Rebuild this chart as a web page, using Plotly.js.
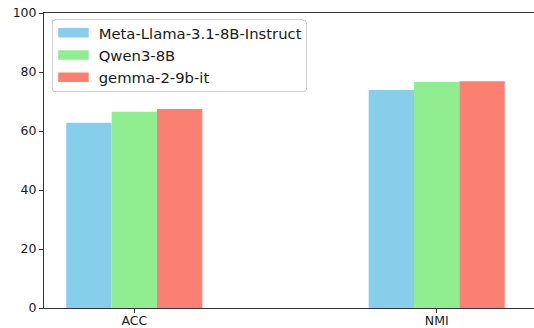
<!DOCTYPE html>
<html>
<head>
<meta charset="utf-8">
<script src="https://cdn.plot.ly/plotly-3.0.1.min.js"></script>
<style>html,body{margin:0;padding:0;background:#fff}#chart{width:534px;height:328px}</style>
</head>
<body>
<div id="chart"></div>
<script>
const categories = ["ACC", "NMI"];
const seriesNames = ["Meta-Llama-3.1-8B-Instruct", "Qwen3-8B", "gemma-2-9b-it"];
const llamaValues = [62.8, 73.9];
const qwenValues = [66.5, 76.6];
const gemmaValues = [67.5, 76.9];
const seriesColors = ["#87CEEB", "#90EE90", "#FA8072"];
const yTicks = [0, 20, 40, 60, 80, 100];

const allValues = [llamaValues, qwenValues, gemmaValues];
const traces = allValues.map((vals, i) => ({
  type: "bar",
  name: seriesNames[i],
  x: [0, 1],
  y: vals,
  marker: {color: seriesColors[i], line: {width: 0}},
  hoverinfo: "skip"
}));
// invisible carrier trace for the category-label axis
traces.push({
  type: "scatter", mode: "markers", x: [0, 1], y: [0, 0],
  xaxis: "x2", yaxis: "y", showlegend: false,
  marker: {opacity: 0}, hoverinfo: "skip"
});

const axisColor = "#333333";
const textColor = "#1a1a1a";
const xRange = [-0.2986, -0.2986 + 490 / 302.4];
const layout = {
  width: 534,
  height: 328,
  margin: {l: 44, r: 0, t: 13, b: 20, pad: 0},
  paper_bgcolor: "#fff",
  plot_bgcolor: "#fff",
  font: {family: "DejaVu Sans, sans-serif", size: 12.5, color: textColor},
  barmode: "group",
  bargap: 0.55,
  bargroupgap: 0,
  showlegend: true,
  legend: {
    x: 0.0157, y: 0.978, xanchor: "left", yanchor: "top",
    bgcolor: "rgba(255,255,255,0.8)",
    bordercolor: "#d0d0d0", borderwidth: 1,
    font: {family: "DejaVu Sans, sans-serif", size: 14.8, color: textColor},
    itemwidth: 35,
    tracegroupgap: 0
  },
  xaxis: {
    range: xRange, tickmode: "array", tickvals: [0, 1], ticktext: ["", ""],
    ticks: "outside", ticklen: 4, tickwidth: 1, tickcolor: axisColor,
    showline: true, linecolor: axisColor, linewidth: 1, mirror: true,
    showgrid: false, zeroline: false, fixedrange: true
  },
  xaxis2: {
    range: xRange, overlaying: "x", anchor: "y", side: "bottom",
    tickmode: "array", tickvals: [0, 1], ticktext: categories,
    ticks: "", showline: false, showgrid: false, zeroline: false,
    ticklabelstandoff: 3, fixedrange: true
  },
  yaxis: {
    range: [0, 100], tickmode: "array", tickvals: yTicks, ticktext: yTicks.map(String),
    ticks: "outside", ticklen: 4, tickwidth: 1, tickcolor: axisColor,
    showline: true, linecolor: axisColor, linewidth: 1, mirror: false,
    showgrid: false, zeroline: false, ticklabelstandoff: 0, fixedrange: true
  }
};

Plotly.newPlot("chart", traces, layout, {displayModeBar: false, staticPlot: true}).then(gd => {
  // matplotlib-style wide legend patches
  gd.querySelectorAll(".legend .legendpoints path").forEach(p => {
    p.setAttribute("d", "M13.5,4.75H-17V-4.75H13.5Z");
  });
  gd.querySelectorAll(".legend .traces").forEach(g => {
    const t = g.getAttribute("transform") || "";
    g.setAttribute("transform", t + " translate(0,-3.8)");
  });
  gd.querySelectorAll(".legend .legendtext").forEach(t => {
    const x = parseFloat(t.getAttribute("x") || "0");
    t.setAttribute("x", x + 1);
  });
  const bg = gd.querySelector(".legend .bg");
  if (bg) { bg.setAttribute("height", 71.5); bg.setAttribute("rx", 3); bg.setAttribute("ry", 3); }
});
</script>
</body>
</html>
